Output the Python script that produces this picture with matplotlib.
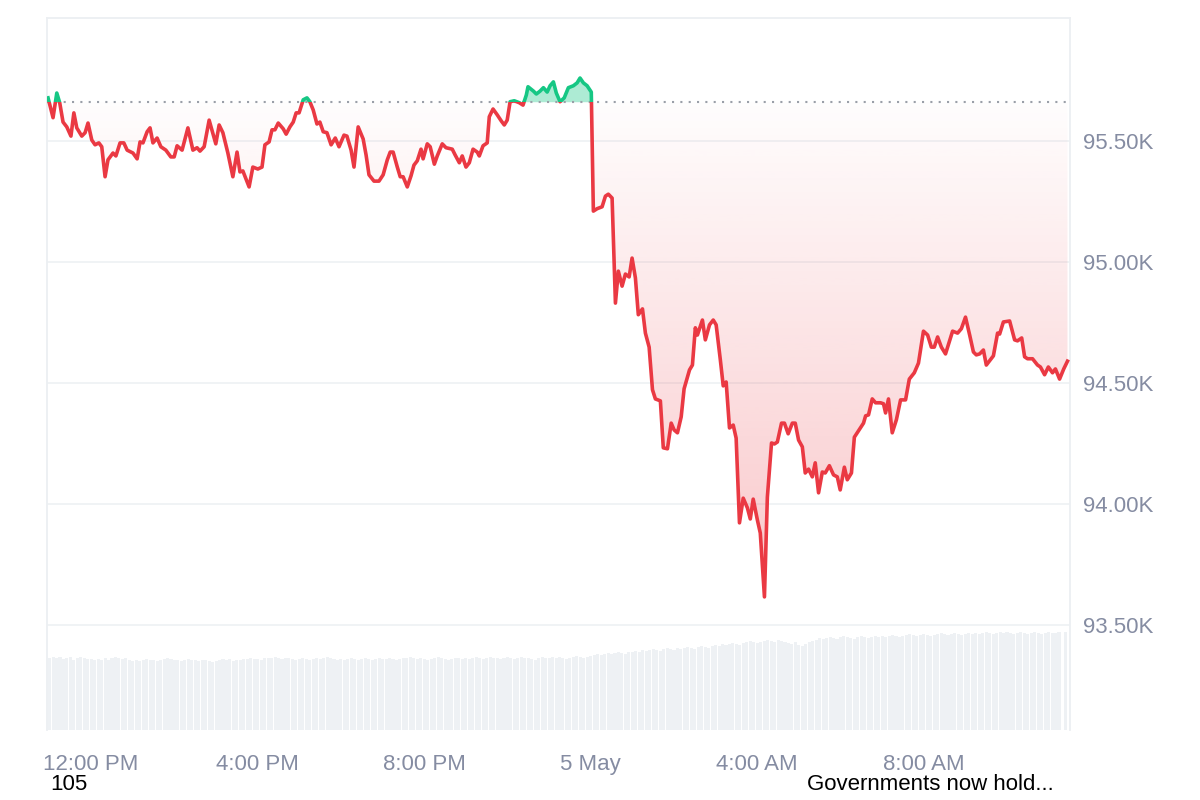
import numpy as np
import matplotlib
matplotlib.use("Agg")
import matplotlib.pyplot as plt
from matplotlib.patches import Rectangle
from matplotlib.path import Path
from matplotlib.colors import to_rgb

plt.rcParams['font.family'] = ['Liberation Sans', 'DejaVu Sans']

# hours after 12:00 PM (4 May)
hours = [
    -1.03, -0.91, -0.82, -0.75, -0.67, -0.58, -0.48, -0.41, -0.34, -0.22, -0.14, -0.07,
    0.02, 0.10, 0.19, 0.26, 0.34, 0.41, 0.53, 0.60, 0.70, 0.79, 0.87, 1.01,
    1.11, 1.18, 1.25, 1.35, 1.42, 1.49, 1.59, 1.68, 1.80, 1.92, 2.00, 2.07,
    2.19, 2.33, 2.45, 2.55, 2.62, 2.72, 2.84, 3.00, 3.08, 3.17, 3.29, 3.41,
    3.51, 3.58, 3.65, 3.80, 3.89, 4.01, 4.11, 4.18, 4.28, 4.35, 4.42, 4.50,
    4.62, 4.69, 4.78, 4.86, 4.93, 5.00, 5.10, 5.19, 5.26, 5.34, 5.43, 5.50,
    5.58, 5.67, 5.77, 5.87, 5.96, 6.08, 6.15, 6.25, 6.32, 6.42, 6.54, 6.61,
    6.68, 6.80, 6.92, 7.02, 7.12, 7.19, 7.26, 7.36, 7.43, 7.50, 7.60, 7.69,
    7.76, 7.84, 7.93, 7.98, 8.08, 8.15, 8.25, 8.32, 8.44, 8.53, 8.68, 8.75,
    8.85, 8.92, 9.01, 9.09, 9.18, 9.28, 9.33, 9.42, 9.52, 9.57, 9.66, 9.76,
    9.86, 9.93, 10.00, 10.07, 10.17, 10.29, 10.38, 10.46, 10.50, 10.63, 10.70, 10.79,
    10.87, 10.96, 11.03, 11.11, 11.18, 11.27, 11.37, 11.47, 11.59, 11.68, 11.75, 11.83,
    11.92, 12.02, 12.07, 12.16, 12.28, 12.36, 12.43, 12.52, 12.60, 12.67, 12.76, 12.84,
    12.93, 13.00, 13.08, 13.15, 13.25, 13.32, 13.41, 13.49, 13.56, 13.68, 13.75, 13.85,
    13.94, 14.01, 14.09, 14.18, 14.25, 14.38, 14.45, 14.52, 14.57, 14.69, 14.76, 14.86,
    14.95, 15.02, 15.12, 15.19, 15.26, 15.34, 15.43, 15.50, 15.58, 15.67, 15.77, 15.84,
    15.91, 16.01, 16.08, 16.18, 16.25, 16.35, 16.42, 16.49, 16.59, 16.66, 16.75, 16.85,
    16.92, 17.00, 17.09, 17.16, 17.24, 17.33, 17.40, 17.48, 17.57, 17.64, 17.74, 17.84,
    17.93, 18.00, 18.10, 18.17, 18.27, 18.34, 18.44, 18.56, 18.61, 18.68, 18.77, 18.85,
    18.97, 19.04, 19.09, 19.16, 19.25, 19.35, 19.45, 19.57, 19.66, 19.78, 19.88, 20.00,
    20.10, 20.19, 20.26, 20.34, 20.43, 20.53, 20.70, 20.82, 20.91, 21.01, 21.11, 21.20,
    21.27, 21.35, 21.44, 21.51, 21.61, 21.68, 21.78, 21.83, 21.92, 22.07, 22.19, 22.26,
    22.36, 22.43, 22.50, 22.62,
    22.74, 22.81, 22.91, 23.00, 23.10, 23.17, 23.27, 23.37, 23.46,
]

prices = [
    95678, 95596, 95698, 95658, 95578, 95558, 95520, 95616, 95554, 95520, 95534, 95574,
    95504, 95484, 95492, 95476, 95352, 95422, 95450, 95438, 95492, 95492, 95462, 95450,
    95426, 95496, 95492, 95538, 95554, 95492, 95512, 95476, 95462, 95434, 95434, 95480,
    95462, 95554, 95462, 95472, 95458, 95476, 95586, 95488, 95566, 95534, 95450, 95352,
    95454, 95372, 95376, 95310, 95392, 95384, 95392, 95484, 95496, 95546, 95546, 95574,
    95550, 95528, 95558, 95578, 95616, 95616, 95670, 95678, 95662, 95628, 95570, 95578,
    95538, 95534, 95484, 95512, 95476, 95524, 95520, 95462, 95392, 95558, 95508, 95442,
    95360, 95334, 95334, 95360, 95422, 95454, 95454, 95392, 95352, 95352, 95310, 95356,
    95400, 95418, 95466, 95426, 95488, 95476, 95404, 95438, 95488, 95472, 95466, 95442,
    95410, 95438, 95392, 95410, 95466, 95454, 95438, 95480, 95492, 95600, 95632, 95608,
    95582, 95566, 95586, 95662, 95666, 95658, 95648, 95690, 95724, 95706, 95694, 95706,
    95720, 95702, 95728, 95744, 95698, 95662, 95678, 95720, 95728, 95740, 95760, 95740,
    95728, 95702, 95210, 95220, 95228, 95272, 95280, 95264, 94830, 94962, 94900, 94950,
    94938, 95016, 94934, 94782, 94806, 94706, 94648, 94472, 94434, 94426, 94232, 94228,
    94334, 94306, 94294, 94360, 94476, 94554, 94574, 94728, 94698, 94760, 94678, 94740,
    94760, 94740, 94596, 94488, 94504, 94314, 94326, 94272, 93922, 94024, 93984, 93938,
    94020, 93934, 93880, 93616, 94028, 94252, 94248, 94256, 94334, 94334, 94290, 94334,
    94334, 94264, 94236, 94128, 94144, 94112, 94170, 94046, 94132, 94128, 94158, 94120,
    94112, 94058, 94152, 94100, 94128, 94276, 94302, 94334, 94364, 94368, 94434, 94418,
    94418, 94414, 94376, 94434, 94294, 94348, 94430, 94430, 94516, 94542, 94582, 94714,
    94698, 94648, 94648, 94690, 94648, 94620, 94714, 94706, 94724, 94772, 94698, 94628,
    94616, 94620, 94636, 94574, 94596, 94612, 94706, 94702, 94752, 94756, 94678, 94674,
    94686, 94608, 94600, 94600,
    94574, 94566, 94534, 94566, 94542, 94558, 94516, 94558, 94590,
]

open_price = 95660

# volume bars, 5 minute candles (arbitrary units)
volume = [
    72, 73, 72, 73, 71, 72, 73, 70, 72, 73, 72, 71, 71, 70, 71, 70, 72, 70, 72, 73, 72, 71, 72, 70,
    69, 70, 69, 70, 71, 70, 70, 69, 70, 71, 72, 71, 70, 70, 69, 70, 71, 70, 70, 69, 70, 70, 69, 68,
    69, 70, 71, 70, 71, 69, 70, 70, 71, 71, 72, 71, 71, 70, 72, 72, 72, 73, 72, 71, 72, 72, 71, 70,
    71, 72, 71, 70, 71, 72, 71, 72, 73, 72, 71, 70, 71, 70, 71, 72, 71, 70, 71, 72, 71, 70, 71, 72,
    71, 71, 72, 71, 70, 71, 72, 72, 73, 72, 71, 72, 71, 70, 71, 72, 73, 72, 71, 70, 71, 72, 72, 71,
    72, 71, 72, 73, 72, 71, 72, 73, 72, 72, 71, 72, 73, 72, 71, 72, 73, 72, 72, 71, 70, 72, 73, 72,
    72, 73, 72, 73, 72, 71, 72, 73, 74, 73, 72, 73, 74, 75, 76, 75, 76, 77, 76, 77, 78, 77, 76, 78,
    78, 79, 78, 80, 79, 80, 81, 80, 79, 81, 82, 81, 80, 82, 81, 82, 83, 82, 81, 83, 84, 83, 82, 84,
    85, 84, 86, 85, 86, 87, 86, 85, 87, 88, 89, 88, 87, 88, 89, 90, 89, 88, 90, 89, 88, 87, 86, 88,
    85, 84, 86, 88, 89, 90, 92, 91, 92, 93, 92, 91, 93, 94, 93, 92, 91, 93, 94, 93, 92, 93, 94, 93,
    94, 93, 94, 95, 94, 93, 94, 95, 96, 95, 94, 95, 96, 95, 94, 95, 96, 97, 96, 95, 96, 97, 96, 95,
    96, 97, 96, 97, 96, 97, 98, 97, 96, 97, 98, 97, 98, 97, 96, 97, 98, 97, 96, 97, 98, 97, 96, 97,
    98, 97, 97, 98, 0, 98,
]
vol_start = -1.03

tick_hours = [0, 4, 8, 12, 16, 20]
tick_labels = ['12:00 PM', '4:00 PM', '8:00 PM', '5 May', '4:00 AM', '8:00 AM']
price_ticks = [93500, 94000, 94500, 95000, 95500]
price_tick_labels = ['93.50K', '94.00K', '94.50K', '95.00K', '95.50K']

RED = '#ea3943'
GREEN = '#16c784'
GRID = '#eff2f5'
LABEL = '#858ca2'

t = np.array(hours)
p = np.array(prices)
xmin, xmax = -1.06, 23.53
ymin, ymax = 93066, 96008

fig = plt.figure(figsize=(12, 8), dpi=100)
rect = [0.039, 0.0875, 0.853, 0.89]

# volume in the back
axv = fig.add_axes(rect, zorder=0)
vt = vol_start + np.arange(len(volume)) / 12.0
axv.bar(vt, volume, width=1 / 12.0 * 0.88, color='#eef1f4', align='edge', linewidth=0)
axv.set_xlim(xmin, xmax)
axv.set_ylim(0, 712)
axv.axis('off')

ax = fig.add_axes(rect, zorder=1)
ax.patch.set_alpha(0)

# area fills
ax.fill_between(t, p, open_price, where=p >= open_price, interpolate=True,
                color=GREEN, alpha=0.35, linewidth=0, zorder=2)
red_poly = ax.fill_between(t, p, open_price, where=p <= open_price, interpolate=True,
                           facecolor='none', edgecolor='none')
grad = np.zeros((256, 1, 4))
grad[:, 0, :3] = to_rgb(RED)
grad[:, 0, 3] = np.linspace(0.28, 0.01, 256)
im = ax.imshow(grad, extent=[xmin, xmax, p.min(), open_price], origin='lower',
               aspect='auto', zorder=2, interpolation='bilinear')
clip = Path.make_compound_path(*red_poly.get_paths())
im.set_clip_path(clip, transform=ax.transData)

# baseline
ax.axhline(open_price, color='#9a9fa8', lw=1.5, linestyle=(0, (1, 3)), zorder=3)

# price line, split colours at the open price
red_line, = ax.plot(t, p, color=RED, lw=2.6, zorder=4, solid_joinstyle='round')
red_line.set_clip_path(Rectangle((xmin, ymin), xmax - xmin, open_price - ymin,
                                 transform=ax.transData))
green_line, = ax.plot(t, p, color=GREEN, lw=2.6, zorder=4, solid_joinstyle='round')
green_line.set_clip_path(Rectangle((xmin, open_price), xmax - xmin, ymax - open_price,
                                   transform=ax.transData))

ax.set_xlim(xmin, xmax)
ax.set_ylim(ymin, ymax)

ax.set_yticks(price_ticks)
ax.set_yticklabels(price_tick_labels)
ax.yaxis.tick_right()
ax.tick_params(axis='y', length=0, pad=9, labelsize=16, labelcolor=LABEL)
ax.set_xticks(tick_hours)
ax.set_xticklabels(tick_labels)
ax.tick_params(axis='x', length=0, pad=17, labelsize=16, labelcolor=LABEL)
ax.grid(axis='y', color=GRID, lw=1.3, zorder=0)
ax.set_axisbelow(True)

for side in ['left', 'right', 'top']:
    ax.spines[side].set_color('#eceff2')
    ax.spines[side].set_linewidth(1.3)
ax.spines['bottom'].set_visible(False)

fig.text(0.042, 0.019, '105', fontsize=16, color='black', va='center', ha='left')
fig.text(0.6725, 0.019, 'Governments now hold...', fontsize=16, color='black',
         va='center', ha='left')

fig.savefig('out.png', dpi=100)
